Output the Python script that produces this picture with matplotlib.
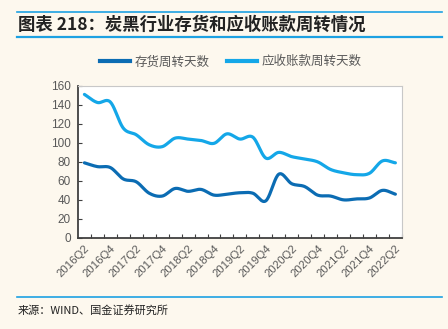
import numpy as np
import matplotlib
matplotlib.use("Agg")
import matplotlib.pyplot as plt
from matplotlib.lines import Line2D

plt.rcParams['font.family'] = ['Liberation Sans', 'Noto Sans CJK SC', 'DejaVu Sans']

quarters = ['2016Q2', '2016Q3', '2016Q4', '2017Q1', '2017Q2', '2017Q3', '2017Q4',
            '2018Q1', '2018Q2', '2018Q3', '2018Q4', '2019Q1', '2019Q2', '2019Q3',
            '2019Q4', '2020Q1', '2020Q2', '2020Q3', '2020Q4', '2021Q1', '2021Q2',
            '2021Q3', '2021Q4', '2022Q1', '2022Q2']
inventory_days = [79, 75, 74, 62, 59, 47, 44, 52, 49, 51, 45, 46, 47.5, 47, 39,
                  67, 57, 54, 45, 44, 40, 41, 42, 50, 46]
receivable_days = [151, 142.5, 143, 115.5, 108.5, 98, 96, 105, 104, 102.5, 99.5, 109.5,
                   104, 106, 84, 90, 85.5, 83, 80, 72, 68.5, 66.5, 68, 81, 79]
series_names = ['存货周转天数', '应收账款周转天数']

DARK = '#0b6cb3'
LIGHT = '#14a7e8'
BG = '#fdf8ee'
GRID_TXT = '#595959'


def smooth(x, y, n=20):
    # catmull-rom style smoothing, like the "smoothed line" option in office charts
    x = np.asarray(x, float)
    y = np.asarray(y, float)
    px = np.concatenate([[2 * x[0] - x[1]], x, [2 * x[-1] - x[-2]]])
    py = np.concatenate([[2 * y[0] - y[1]], y, [2 * y[-1] - y[-2]]])
    out_x, out_y = [], []
    t = np.linspace(0, 1, n, endpoint=False)
    for i in range(1, len(px) - 2):
        for arr, out in ((px, out_x), (py, out_y)):
            p0, p1, p2, p3 = arr[i - 1], arr[i], arr[i + 1], arr[i + 2]
            out.extend(0.5 * ((2 * p1) + (-p0 + p2) * t
                              + (2 * p0 - 5 * p1 + 4 * p2 - p3) * t ** 2
                              + (-p0 + 3 * p1 - 3 * p2 + p3) * t ** 3))
    out_x.append(x[-1])
    out_y.append(y[-1])
    return np.array(out_x), np.array(out_y)


fig = plt.figure(figsize=(4.48, 3.29), dpi=100, facecolor=BG)
ax = fig.add_axes([0.174, 0.277, 0.723, 0.462])
ax.set_facecolor('white')

xs = np.arange(len(quarters))
sx, sy = smooth(xs, inventory_days)
ax.plot(sx, sy, color=DARK, lw=2.3, solid_capstyle='round')
sx, sy = smooth(xs, receivable_days)
ax.plot(sx, sy, color=LIGHT, lw=2.3, solid_capstyle='round')

ax.set_xlim(-0.5, len(quarters) - 0.5)
ax.set_ylim(0, 160)
ax.set_yticks(np.arange(0, 161, 20))
ax.set_xticks(xs[::2])
ax.set_xticklabels(quarters[::2], rotation=45, ha='right', rotation_mode='anchor')
ax.set_xticks(np.arange(len(quarters)) + 0.5, minor=True)
ax.tick_params(axis='x', which='major', length=0, pad=4, labelsize=8.2, colors=GRID_TXT)
ax.tick_params(axis='x', which='minor', direction='in', length=3, width=0.8, color='#404040')
ax.tick_params(axis='y', direction='in', length=3, width=0.8, color='#404040',
               labelsize=8.5, labelcolor=GRID_TXT, pad=5)

for side in ['left', 'bottom']:
    ax.spines[side].set_color('#404040')
    ax.spines[side].set_linewidth(1.3)
for side in ['top', 'right']:
    ax.spines[side].set_color('#c8c8c8')
    ax.spines[side].set_linewidth(0.8)

handles = [Line2D([], [], color=DARK, lw=3), Line2D([], [], color=LIGHT, lw=3)]
fig.legend(handles, series_names, loc='center', bbox_to_anchor=(0.515, 0.812), ncol=2,
           frameon=False, handlelength=2.4, columnspacing=1.4,
           handletextpad=0.35, labelcolor=GRID_TXT, prop={'family': 'Noto Sans CJK SC', 'size': 9})

# title block with rules
fig.add_artist(Line2D([0.038, 0.987], [0.963, 0.963], color='#1da1e2', lw=1.2))
fig.add_artist(Line2D([0.038, 0.987], [0.887, 0.887], color='#1da1e2', lw=1.6))
fig.text(0.04, 0.925, '图表 218：炭黑行业存货和应收账款周转情况', fontsize=12.5,
         fontweight='bold', fontstyle='italic', color='#222222', va='center',
         family=['Noto Sans CJK SC', 'DejaVu Sans'])

fig.add_artist(Line2D([0.038, 0.987], [0.097, 0.097], color='#1da1e2', lw=1.2))
fig.text(0.04, 0.057, '来源：WIND、国金证券研究所', fontsize=8, color='#222222', va='center',
         family=['Noto Sans CJK SC', 'DejaVu Sans'])

fig.savefig('out.png', dpi=100, facecolor=BG)
